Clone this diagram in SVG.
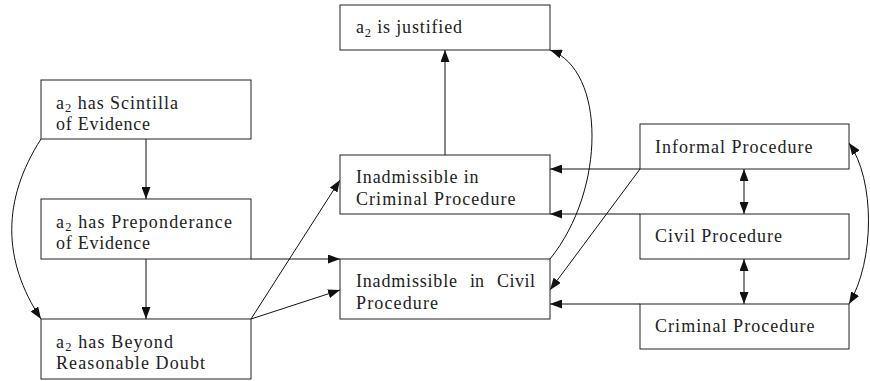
<svg xmlns="http://www.w3.org/2000/svg" width="870" height="381" viewBox="0 0 870 381">
<style>
.box{fill:#fff;stroke:#222;stroke-width:1}
.t{font-family:"Liberation Serif","DejaVu Serif",serif;font-size:18px;fill:#222}
.sub{font-size:12.5px}
.c{fill:none;stroke:#111;stroke-width:1}
.a{marker-end:url(#ah)}
.b{marker-start:url(#ah);marker-end:url(#ah)}
</style>
<defs>
<marker id="ah" viewBox="0 0 12 9" refX="12" refY="4.5" markerWidth="12" markerHeight="9" markerUnits="userSpaceOnUse" orient="auto-start-reverse">
<path d="M0,0 L12,4.5 L0,9 z" fill="#111"/>
</marker>
</defs>
<rect width="870" height="381" fill="#fff"/>
<g id="connectors">
<path class="c a" d="M146,139 V199"/>
<path class="c a" d="M146,259 V319"/>
<path class="c a" d="M41,139 C2,200 2,260 41,319"/>
<path class="c a" d="M251,259 H340"/>
<path class="c a" d="M251,319 L340,180"/>
<path class="c a" d="M251,319 L340,290"/>
<path class="c a" d="M445,155 V50"/>
<path class="c a" d="M550,259 C606,190 606,70 550,50"/>
<path class="c a" d="M640,169 H550"/>
<path class="c a" d="M640,214 H550"/>
<path class="c a" d="M640,169 L550,290"/>
<path class="c a" d="M640,304 H550"/>
<path class="c b" d="M744,169 V214"/>
<path class="c b" d="M744,259 V304"/>
<path class="c b" d="M849,143 C875,180 875,260 849,304"/>
</g>
<g id="scintilla">
<rect class="box" x="41" y="80" width="210" height="59"/>
<text class="t" x="56" y="108.5" textLength="122" lengthAdjust="spacing">a<tspan class="sub" dy="3.5">2</tspan><tspan dy="-3.5"> has Scintilla</tspan></text>
<text class="t" x="56" y="130" textLength="94" lengthAdjust="spacing">of Evidence</text>
</g>
<g id="preponderance">
<rect class="box" x="41" y="199" width="210" height="60"/>
<text class="t" x="56" y="227.5" textLength="176" lengthAdjust="spacing">a<tspan class="sub" dy="3.5">2</tspan><tspan dy="-3.5"> has Preponderance</tspan></text>
<text class="t" x="56" y="249" textLength="94" lengthAdjust="spacing">of Evidence</text>
</g>
<g id="beyond">
<rect class="box" x="41" y="319" width="210" height="60"/>
<text class="t" x="56" y="347.5" textLength="117" lengthAdjust="spacing">a<tspan class="sub" dy="3.5">2</tspan><tspan dy="-3.5"> has Beyond</tspan></text>
<text class="t" x="56" y="369" textLength="149" lengthAdjust="spacing">Reasonable Doubt</text>
</g>
<g id="justified">
<rect class="box" x="340" y="5" width="210" height="45"/>
<text class="t" x="356" y="33" textLength="106" lengthAdjust="spacing">a<tspan class="sub" dy="3.5">2</tspan><tspan dy="-3.5"> is justified</tspan></text>
</g>
<g id="inadmissible-criminal">
<rect class="box" x="340" y="155" width="210" height="59"/>
<text class="t" x="356" y="183" textLength="122.5" lengthAdjust="spacing">Inadmissible in</text>
<text class="t" x="356" y="204.5" textLength="159.5" lengthAdjust="spacing">Criminal Procedure</text>
</g>
<g id="inadmissible-civil">
<rect class="box" x="340" y="259" width="210" height="60"/>
<text class="t" y="287"><tspan x="356" textLength="101" lengthAdjust="spacing">Inadmissible</tspan> <tspan x="470">in</tspan> <tspan x="497" textLength="38" lengthAdjust="spacing">Civil</tspan></text>
<text class="t" x="356" y="308.5" textLength="82" lengthAdjust="spacing">Procedure</text>
</g>
<g id="informal">
<rect class="box" x="640" y="124" width="209" height="45"/>
<text class="t" x="655" y="152.5" textLength="157.5" lengthAdjust="spacing">Informal Procedure</text>
</g>
<g id="civil">
<rect class="box" x="640" y="214" width="209" height="45"/>
<text class="t" x="655" y="242" textLength="127" lengthAdjust="spacing">Civil Procedure</text>
</g>
<g id="criminal">
<rect class="box" x="640" y="304" width="209" height="45"/>
<text class="t" x="655" y="332" textLength="159.5" lengthAdjust="spacing">Criminal Procedure</text>
</g>
</svg>
